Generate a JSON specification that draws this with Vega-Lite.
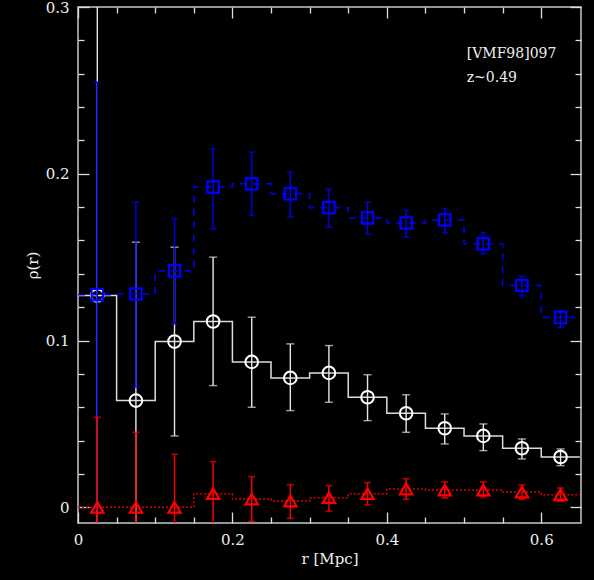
{
  "$schema": "https://vega.github.io/schema/vega-lite/v6.json",
  "width": 503,
  "height": 516,
  "autosize": "none",
  "padding": {"left": 78, "top": 7, "right": 13, "bottom": 57},
  "background": "black",
  "config": {
    "view": {"stroke": "#c8c8c8", "strokeWidth": 1.5},
    "axis": {"domain": false, "grid": false, "tickColor": "#dddddd", "tickWidth": 1.3, "labelColor": "#eeeeee", "labelFont": "DejaVu Serif", "labelFontSize": 15, "titleColor": "#eeeeee", "titleFont": "DejaVu Serif", "titleFontSize": 15, "titleFontWeight": "normal", "labelFlush": false, "labelOverlap": false}
  },
  "datasets": {
    "pts": [
      {"r": 0.025, "tot": 0.127, "tot_lo": -0.08, "tot_hi": 0.334, "blu": 0.1275, "blu_lo": -0.001, "blu_hi": 0.255, "red": 0, "red_lo": -0.054, "red_hi": 0.054},
      {"r": 0.075, "tot": 0.064, "tot_lo": -0.031, "tot_hi": 0.159, "blu": 0.1279, "blu_lo": 0.072, "blu_hi": 0.183, "red": 0, "red_lo": -0.045, "red_hi": 0.045},
      {"r": 0.125, "tot": 0.0994, "tot_lo": 0.0428, "tot_hi": 0.156, "blu": 0.1418, "blu_lo": 0.110, "blu_hi": 0.173, "red": 0, "red_lo": -0.0318, "red_hi": 0.0318},
      {"r": 0.175, "tot": 0.1114, "tot_lo": 0.073, "tot_hi": 0.150, "blu": 0.192, "blu_lo": 0.167, "blu_hi": 0.215, "red": 0.0082, "red_lo": -0.011, "red_hi": 0.0274},
      {"r": 0.225, "tot": 0.0872, "tot_lo": 0.060, "tot_hi": 0.114, "blu": 0.194, "blu_lo": 0.175, "blu_hi": 0.213, "red": 0.005, "red_lo": -0.0084, "red_hi": 0.0184},
      {"r": 0.275, "tot": 0.0776, "tot_lo": 0.058, "tot_hi": 0.098, "blu": 0.188, "blu_lo": 0.174, "blu_hi": 0.201, "red": 0.0038, "red_lo": -0.0066, "red_hi": 0.0136},
      {"r": 0.325, "tot": 0.0806, "tot_lo": 0.063, "tot_hi": 0.097, "blu": 0.1797, "blu_lo": 0.168, "blu_hi": 0.1908, "red": 0.0058, "red_lo": -0.0024, "red_hi": 0.013},
      {"r": 0.375, "tot": 0.066, "tot_lo": 0.052, "tot_hi": 0.0795, "blu": 0.1735, "blu_lo": 0.164, "blu_hi": 0.183, "red": 0.0082, "red_lo": 0.0014, "red_hi": 0.0148},
      {"r": 0.425, "tot": 0.0564, "tot_lo": 0.045, "tot_hi": 0.0675, "blu": 0.1705, "blu_lo": 0.162, "blu_hi": 0.178, "red": 0.011, "red_lo": 0.0048, "red_hi": 0.0172},
      {"r": 0.475, "tot": 0.0474, "tot_lo": 0.038, "tot_hi": 0.056, "blu": 0.1723, "blu_lo": 0.1646, "blu_hi": 0.1792, "red": 0.0104, "red_lo": 0.0056, "red_hi": 0.0152},
      {"r": 0.525, "tot": 0.0428, "tot_lo": 0.034, "tot_hi": 0.050, "blu": 0.158, "blu_lo": 0.152, "blu_hi": 0.1645, "red": 0.0104, "red_lo": 0.0062, "red_hi": 0.0152},
      {"r": 0.575, "tot": 0.0354, "tot_lo": 0.029, "tot_hi": 0.041, "blu": 0.133, "blu_lo": 0.1268, "blu_hi": 0.1384, "red": 0.0092, "red_lo": 0.0048, "red_hi": 0.0134},
      {"r": 0.625, "tot": 0.0302, "tot_lo": 0.025, "tot_hi": 0.035, "blu": 0.1138, "blu_lo": 0.108, "blu_hi": 0.118, "red": 0.0076, "red_lo": 0.0036, "red_hi": 0.0116}
    ],
    "steps": [
      {"edge": 0.0, "tot": 0.127, "blu": 0.1275, "red": 0},
      {"edge": 0.05, "tot": 0.064, "blu": 0.1279, "red": 0},
      {"edge": 0.1, "tot": 0.0994, "blu": 0.1418, "red": 0},
      {"edge": 0.15, "tot": 0.1114, "blu": 0.192, "red": 0.0082},
      {"edge": 0.2, "tot": 0.0872, "blu": 0.194, "red": 0.005},
      {"edge": 0.25, "tot": 0.0776, "blu": 0.188, "red": 0.0038},
      {"edge": 0.3, "tot": 0.0806, "blu": 0.1797, "red": 0.0058},
      {"edge": 0.35, "tot": 0.066, "blu": 0.1735, "red": 0.0082},
      {"edge": 0.4, "tot": 0.0564, "blu": 0.1705, "red": 0.011},
      {"edge": 0.45, "tot": 0.0474, "blu": 0.1723, "red": 0.0104},
      {"edge": 0.5, "tot": 0.0428, "blu": 0.158, "red": 0.0104},
      {"edge": 0.55, "tot": 0.0354, "blu": 0.133, "red": 0.0092},
      {"edge": 0.6, "tot": 0.0302, "blu": 0.1138, "red": 0.0076},
      {"edge": 0.65, "tot": 0.0302, "blu": 0.1138, "red": 0.0076}
    ],
    "notes": [
      {"label": "[VMF98]097", "r": 0.5035, "v": 0.2697},
      {"label": "z~0.49", "r": 0.5035, "v": 0.2553}
    ]
  },
  "resolve": {"axis": {"x": "independent", "y": "independent"}},
  "layer": [
    {
      "data": {"name": "steps"},
      "mark": {"type": "line", "interpolate": "step-after", "color": "#dcdcdc", "strokeWidth": 1.5, "clip": true},
      "encoding": {
        "x": {"field": "edge", "type": "quantitative", "scale": {"domain": [0, 0.6515], "nice": false, "zero": false},
              "axis": {"orient": "bottom", "values": [0, 0.2, 0.4, 0.6], "tickSize": -11, "format": "~g", "labelPadding": 20, "title": "r [Mpc]", "titleX": 251.5, "titleY": 40, "titleBaseline": "alphabetic", "titleAnchor": "middle"}},
        "y": {"field": "tot", "type": "quantitative", "scale": {"domain": [-0.0094, 0.3], "nice": false, "zero": false},
              "axis": {"orient": "left", "values": [0, 0.1, 0.2, 0.3], "tickSize": -11, "format": "~g", "labelPadding": 20, "title": "ρ(r)", "titlePadding": 5}}
      }
    },
    {
      "data": {"name": "pts"},
      "mark": {"type": "rule", "color": "#e6e6e6", "strokeWidth": 1.4, "clip": true},
      "encoding": {
        "x": {"field": "r", "type": "quantitative", "scale": {"domain": [0, 0.6515], "nice": false, "zero": false},
              "axis": {"orient": "bottom", "values": [0.05, 0.1, 0.15, 0.25, 0.3, 0.35, 0.45, 0.5, 0.55], "tickSize": -6, "labels": false, "title": null}},
        "y": {"field": "tot_lo", "type": "quantitative", "scale": {"domain": [-0.0094, 0.3], "nice": false, "zero": false},
              "axis": {"orient": "left", "values": [0.02, 0.04, 0.06, 0.08, 0.12, 0.14, 0.16, 0.18, 0.22, 0.24, 0.26, 0.28], "tickSize": -6, "labels": false, "title": null}},
        "y2": {"field": "tot_hi"}
      }
    },
    {
      "data": {"name": "pts"},
      "mark": {"type": "tick", "orient": "horizontal", "color": "#e6e6e6", "size": 8, "thickness": 1.4, "clip": true},
      "encoding": {
        "x": {"field": "r", "type": "quantitative", "scale": {"domain": [0, 0.6515], "nice": false, "zero": false},
              "axis": {"orient": "top", "values": [0, 0.2, 0.4, 0.6], "tickSize": -11, "labels": false, "title": null}},
        "y": {"field": "tot_hi", "type": "quantitative", "scale": {"domain": [-0.0094, 0.3], "nice": false, "zero": false},
              "axis": {"orient": "right", "values": [0, 0.1, 0.2, 0.3], "tickSize": -11, "labels": false, "title": null}}
      }
    },
    {
      "data": {"name": "pts"},
      "mark": {"type": "tick", "orient": "horizontal", "color": "#e6e6e6", "size": 8, "thickness": 1.4, "clip": true},
      "encoding": {
        "x": {"field": "r", "type": "quantitative", "scale": {"domain": [0, 0.6515], "nice": false, "zero": false},
              "axis": {"orient": "top", "values": [0.05, 0.1, 0.15, 0.25, 0.3, 0.35, 0.45, 0.5, 0.55], "tickSize": -6, "labels": false, "title": null}},
        "y": {"field": "tot_lo", "type": "quantitative", "scale": {"domain": [-0.0094, 0.3], "nice": false, "zero": false},
              "axis": {"orient": "right", "values": [0.02, 0.04, 0.06, 0.08, 0.12, 0.14, 0.16, 0.18, 0.22, 0.24, 0.26, 0.28], "tickSize": -6, "labels": false, "title": null}}
      }
    },
    {
      "data": {"name": "pts"},
      "mark": {"type": "point", "shape": "circle", "filled": false, "color": "#ffffff", "strokeWidth": 2, "size": 160, "opacity": 1, "clip": true},
      "encoding": {
        "x": {"field": "r", "type": "quantitative", "scale": {"domain": [0, 0.6515], "nice": false, "zero": false}, "axis": null},
        "y": {"field": "tot", "type": "quantitative", "scale": {"domain": [-0.0094, 0.3], "nice": false, "zero": false}, "axis": null}
      }
    },
    {
      "data": {"name": "steps"},
      "mark": {"type": "line", "interpolate": "step-after", "color": "#0000ee", "strokeWidth": 1.5, "strokeDash": [7, 6], "clip": true},
      "encoding": {
        "x": {"field": "edge", "type": "quantitative", "scale": {"domain": [0, 0.6515], "nice": false, "zero": false}, "axis": null},
        "y": {"field": "blu", "type": "quantitative", "scale": {"domain": [-0.0094, 0.3], "nice": false, "zero": false}, "axis": null}
      }
    },
    {
      "data": {"name": "pts"},
      "mark": {"type": "rule", "color": "#0000f0", "strokeWidth": 1.4, "clip": true},
      "encoding": {
        "x": {"field": "r", "type": "quantitative", "scale": {"domain": [0, 0.6515], "nice": false, "zero": false}, "axis": null},
        "y": {"field": "blu_lo", "type": "quantitative", "scale": {"domain": [-0.0094, 0.3], "nice": false, "zero": false}, "axis": null},
        "y2": {"field": "blu_hi"}
      }
    },
    {
      "data": {"name": "pts"},
      "mark": {"type": "tick", "orient": "horizontal", "color": "#0000f0", "size": 7, "thickness": 1.6, "clip": true},
      "encoding": {
        "x": {"field": "r", "type": "quantitative", "scale": {"domain": [0, 0.6515], "nice": false, "zero": false}, "axis": null},
        "y": {"field": "blu_hi", "type": "quantitative", "scale": {"domain": [-0.0094, 0.3], "nice": false, "zero": false}, "axis": null}
      }
    },
    {
      "data": {"name": "pts"},
      "mark": {"type": "tick", "orient": "horizontal", "color": "#0000f0", "size": 7, "thickness": 1.6, "clip": true},
      "encoding": {
        "x": {"field": "r", "type": "quantitative", "scale": {"domain": [0, 0.6515], "nice": false, "zero": false}, "axis": null},
        "y": {"field": "blu_lo", "type": "quantitative", "scale": {"domain": [-0.0094, 0.3], "nice": false, "zero": false}, "axis": null}
      }
    },
    {
      "data": {"name": "pts"},
      "mark": {"type": "point", "shape": "square", "filled": false, "color": "#0000ff", "strokeWidth": 2.2, "size": 130, "opacity": 1, "clip": true},
      "encoding": {
        "x": {"field": "r", "type": "quantitative", "scale": {"domain": [0, 0.6515], "nice": false, "zero": false}, "axis": null},
        "y": {"field": "blu", "type": "quantitative", "scale": {"domain": [-0.0094, 0.3], "nice": false, "zero": false}, "axis": null}
      }
    },
    {
      "data": {"name": "steps"},
      "mark": {"type": "line", "interpolate": "step-after", "color": "#dd0000", "strokeWidth": 1.5, "strokeDash": [2, 2], "clip": true},
      "encoding": {
        "x": {"field": "edge", "type": "quantitative", "scale": {"domain": [0, 0.6515], "nice": false, "zero": false}, "axis": null},
        "y": {"field": "red", "type": "quantitative", "scale": {"domain": [-0.0094, 0.3], "nice": false, "zero": false}, "axis": null}
      }
    },
    {
      "data": {"name": "pts"},
      "mark": {"type": "rule", "color": "#ff0000", "strokeWidth": 1.4, "clip": true},
      "encoding": {
        "x": {"field": "r", "type": "quantitative", "scale": {"domain": [0, 0.6515], "nice": false, "zero": false}, "axis": null},
        "y": {"field": "red_lo", "type": "quantitative", "scale": {"domain": [-0.0094, 0.3], "nice": false, "zero": false}, "axis": null},
        "y2": {"field": "red_hi"}
      }
    },
    {
      "data": {"name": "pts"},
      "mark": {"type": "tick", "orient": "horizontal", "color": "#ff0000", "size": 7, "thickness": 1.6, "clip": true},
      "encoding": {
        "x": {"field": "r", "type": "quantitative", "scale": {"domain": [0, 0.6515], "nice": false, "zero": false}, "axis": null},
        "y": {"field": "red_hi", "type": "quantitative", "scale": {"domain": [-0.0094, 0.3], "nice": false, "zero": false}, "axis": null}
      }
    },
    {
      "data": {"name": "pts"},
      "mark": {"type": "tick", "orient": "horizontal", "color": "#ff0000", "size": 7, "thickness": 1.6, "clip": true},
      "encoding": {
        "x": {"field": "r", "type": "quantitative", "scale": {"domain": [0, 0.6515], "nice": false, "zero": false}, "axis": null},
        "y": {"field": "red_lo", "type": "quantitative", "scale": {"domain": [-0.0094, 0.3], "nice": false, "zero": false}, "axis": null}
      }
    },
    {
      "data": {"name": "pts"},
      "mark": {"type": "point", "shape": "triangle-up", "filled": false, "color": "#ff0000", "strokeWidth": 2.2, "size": 150, "opacity": 1, "clip": true},
      "encoding": {
        "x": {"field": "r", "type": "quantitative", "scale": {"domain": [0, 0.6515], "nice": false, "zero": false}, "axis": null},
        "y": {"field": "red", "type": "quantitative", "scale": {"domain": [-0.0094, 0.3], "nice": false, "zero": false}, "axis": null}
      }
    },
    {
      "data": {"name": "notes"},
      "mark": {"type": "text", "font": "DejaVu Serif", "fontSize": 14, "color": "#eeeeee", "align": "left", "baseline": "alphabetic"},
      "encoding": {
        "x": {"field": "r", "type": "quantitative", "scale": {"domain": [0, 0.6515], "nice": false, "zero": false}, "axis": null},
        "y": {"field": "v", "type": "quantitative", "scale": {"domain": [-0.0094, 0.3], "nice": false, "zero": false}, "axis": null},
        "text": {"field": "label"}
      }
    }
  ]
}
